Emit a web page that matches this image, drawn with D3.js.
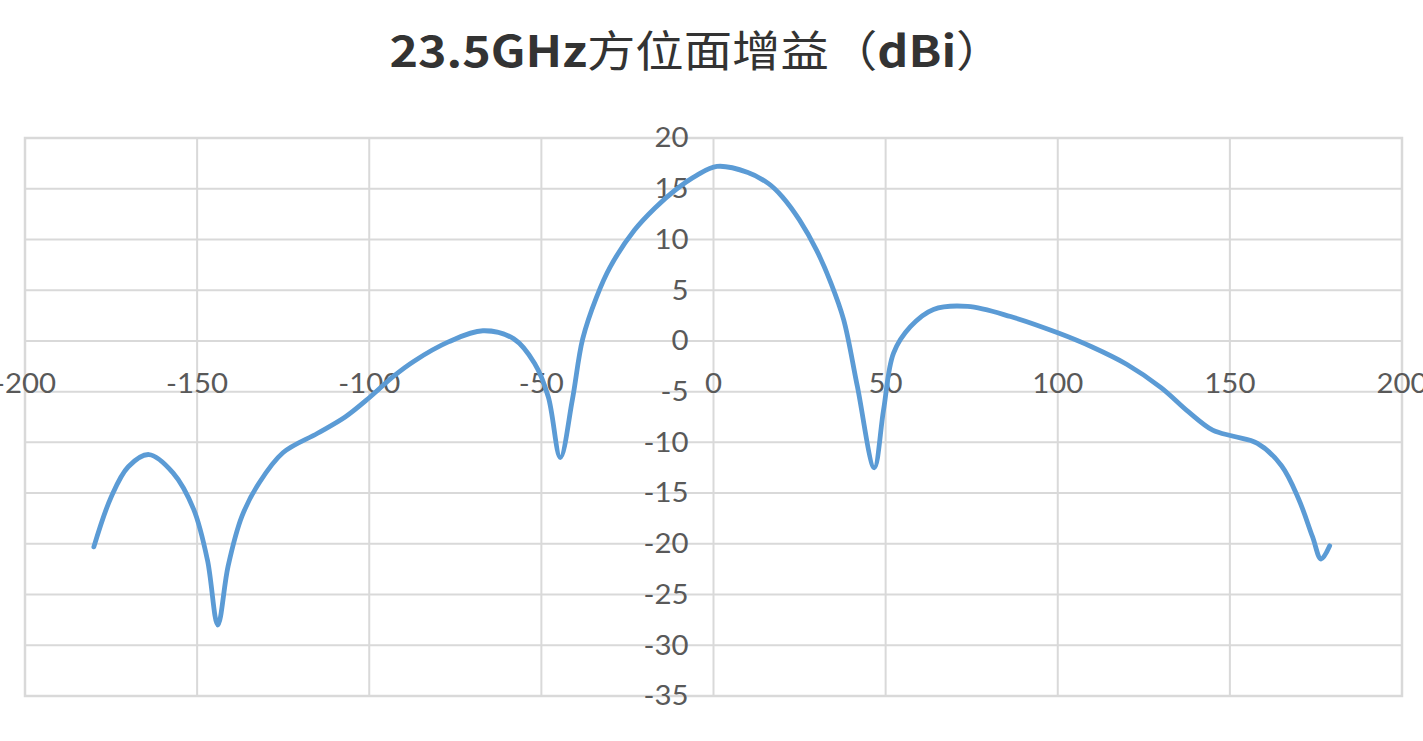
<!DOCTYPE html>
<html><head><meta charset="utf-8">
<script src="https://cdn.jsdelivr.net/npm/d3@7"></script>
<style>html,body{margin:0;padding:0;background:#fff;overflow:hidden}</style>
</head><body>
<svg id="chart" width="1423" height="741"></svg>
<script>
const titleParts = [
  {t:"23.5GHz", w:"bold"}, {t:"方位面增益（", w:"normal"}, {t:"dBi", w:"bold"}, {t:"）", w:"normal"}
];
const xTicks = [-200,-150,-100,-50,0,50,100,150,200];
const yTicks = [20,15,10,5,0,-5,-10,-15,-20,-25,-30,-35];
const angles = [-180,-175,-170,-164,-157,-151,-147,-144,-141,-137,-132,-125,-115,-107,-100,-93,-87,-77,-67,-58,-52,-48,-44.5,-41,-38,-34,-30,-23,-17,-11,-5,1,10,16,20,25,30,34,37.8,41.8,46.7,49.4,52.3,57.2,63.9,73.8,86.3,100,110,120,130,138,145,151,158,165,170,174,176.5,179];
const gains = [-20.3,-15.4,-12.4,-11.2,-13.0,-16.6,-21.6,-28.0,-22.2,-17.3,-14.0,-11.0,-9.1,-7.5,-5.6,-3.5,-2.0,-0.1,1.0,0.2,-2.2,-5.5,-11.5,-5.8,0.2,4.3,7.3,10.9,13.1,14.9,16.3,17.2,16.6,15.5,14.2,11.9,8.9,5.8,2.1,-4.5,-12.5,-6.8,-1.2,1.4,3.1,3.4,2.4,0.8,-0.6,-2.3,-4.6,-7.0,-8.8,-9.4,-10.1,-12.3,-15.6,-19.3,-21.5,-20.2];

const svg = d3.select("#chart");
const L=25, R=1402, T=138, B=696;
const x = d3.scaleLinear().domain([-200,200]).range([L,R]);
const y = d3.scaleLinear().domain([-35,20]).range([B,T]);
const grid = "#d9d9d9";

// gridlines
svg.append("g").selectAll("line").data(yTicks).join("line")
  .attr("x1",L).attr("x2",R).attr("y1",d=>y(d)).attr("y2",d=>y(d))
  .attr("stroke",grid).attr("stroke-width",2);
svg.append("g").selectAll("line").data(xTicks).join("line")
  .attr("y1",T).attr("y2",B).attr("x1",d=>x(d)).attr("x2",d=>x(d))
  .attr("stroke",grid).attr("stroke-width",2);
svg.append("rect").attr("x",L).attr("y",T).attr("width",R-L).attr("height",B-T)
  .attr("fill","none").attr("stroke",grid).attr("stroke-width",2.5);

const lblFont = "Lato, 'Open Sans', sans-serif";
function stretch(sel, k){
  sel.each(function(){ const len=this.getComputedTextLength(); d3.select(this).attr("textLength",len*k).attr("lengthAdjust","spacingAndGlyphs"); });
}
// y labels
const yl = svg.append("g").selectAll("text").data(yTicks).join("text")
  .attr("x", x(0)-25).attr("y", d=>y(d)).attr("dy","0.36em")
  .attr("text-anchor","end").attr("font-family",lblFont).attr("font-size",26)
  .attr("fill","#595959").text(d=>d);
stretch(yl,1.13);
// x labels
const xl = svg.append("g").selectAll("text").data(xTicks).join("text")
  .attr("x", d=>x(d)).attr("y", y(0)+43).attr("dy","0.36em")
  .attr("text-anchor","middle").attr("font-family",lblFont).attr("font-size",26)
  .attr("fill","#595959").text(d=>d);
stretch(xl,1.13);

// title
const title = svg.append("text").attr("x",697).attr("y",67).attr("text-anchor","middle")
  .attr("font-family","'Noto Sans CJK SC', 'Noto Sans', sans-serif").attr("font-size",43)
  .attr("fill","#333333");
titleParts.forEach(p=>title.append("tspan").attr("font-weight",p.w).text(p.t));
title.attr("textLength",615).attr("lengthAdjust","spacingAndGlyphs");

// line
const pts = angles.map((a,i)=>[a,gains[i]]);
svg.append("path").datum(pts)
  .attr("d", d3.line().x(d=>x(d[0])).y(d=>y(d[1])).curve(d3.curveCatmullRom.alpha(0.5)))
  .attr("fill","none").attr("stroke","#5b9bd5").attr("stroke-width",4.8)
  .attr("stroke-linecap","round").attr("stroke-linejoin","round");
</script>
</body></html>
